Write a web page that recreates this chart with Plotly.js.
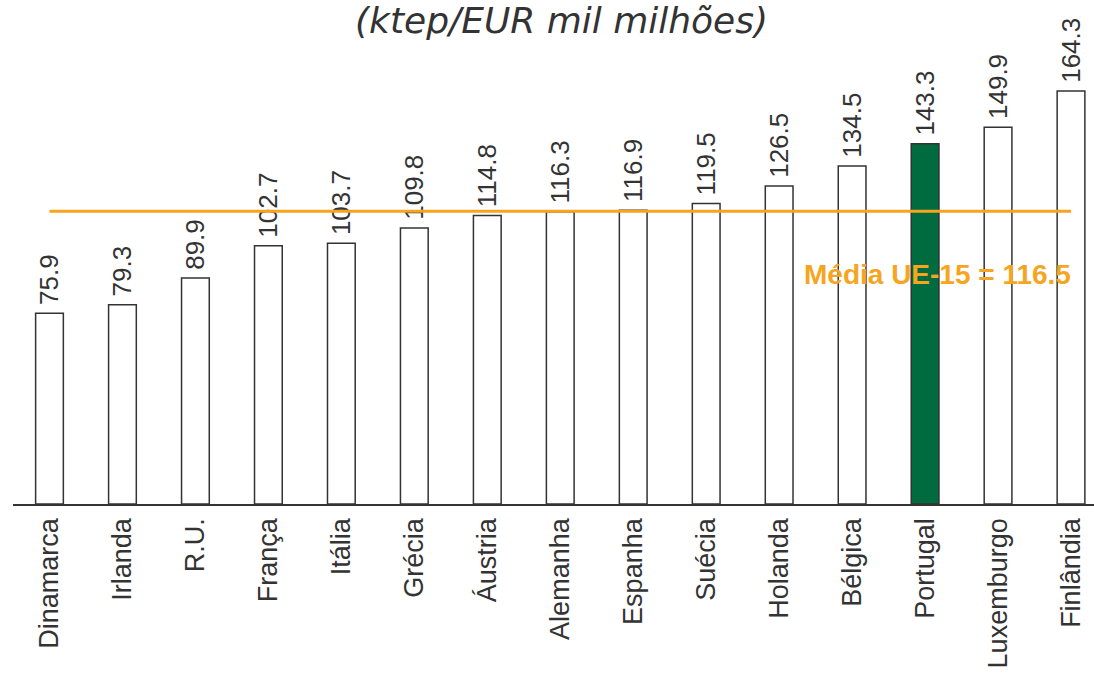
<!DOCTYPE html>
<html><head><meta charset="utf-8">
<script src="https://cdn.plot.ly/plotly-3.0.1.min.js"></script>
<style>html,body{margin:0;padding:0;background:#fff}#chart{width:1094px;height:676px}</style>
</head><body><div id="chart"></div>
<script>
const countries = ["Dinamarca","Irlanda","R.U.","França","Itália","Grécia","Áustria","Alemanha","Espanha","Suécia","Holanda","Bélgica","Portugal","Luxemburgo","Finlândia"];
const values = [75.9,79.3,89.9,102.7,103.7,109.8,114.8,116.3,116.9,119.5,126.5,134.5,143.3,149.9,164.3];
const euAverage = 116.5;
const highlight = "Portugal";
const titleText = "(ktep/EUR mil milhões)";
const avgLabel = "Média UE-15 = 116.5";

const FONT = '"Liberation Sans", Arial, sans-serif';
const fills = countries.map(c => c === highlight ? "#006B3F" : "#FFFFFF");

const bars = {
  type: "bar", x: countries, y: values, width: 0.38,
  marker: {color: fills, line: {color: "#333333", width: 1.5}},
  text: values.map(v => "\u2009" + v.toFixed(1)), textposition: "outside", textangle: -90,
  constraintext: "none", cliponaxis: false,
  textfont: {family: FONT, size: 26, color: "#333333"},
  hoverinfo: "x+y"
};
const avgLine = {
  type: "scatter", mode: "lines", x: [countries[0], countries[countries.length-1]], y: [euAverage, euAverage],
  line: {color: "#F5A51F", width: 3}, hoverinfo: "skip", cliponaxis: false
};

const layout = {
  width: 1094, height: 676,
  margin: {l: 12.5, r: 0, t: 0, b: 172},
  paper_bgcolor: "#fff", plot_bgcolor: "#fff",
  showlegend: false,
  xaxis: {range: [-0.5, 14.315], showgrid: false, zeroline: false, showline: true, linecolor: "#333333", linewidth: 1.5,
          ticks: "", ticklabelstandoff: 2, tickangle: -90, tickfont: {family: FONT, size: 27, color: "#333333"}, fixedrange: true},
  yaxis: {range: [0, 200.5], visible: false, fixedrange: true},
  annotations: [
    {text: avgLabel, xref: "x", yref: "y", x: countries[countries.length-1], y: euAverage, xanchor: "right", yanchor: "middle",
     xshift: 2, yshift: -63, showarrow: false, font: {family: FONT, size: 28, color: "#F5A51F", weight: "bold"}},
    {text: titleText, xref: "paper", yref: "paper", x: 0.507, y: 1, xanchor: "center", yanchor: "bottom", yshift: -43,
     showarrow: false, font: {family: "DejaVu Sans, Verdana, sans-serif", size: 36, color: "#333333", style: "italic"}}
  ]
};
Plotly.newPlot("chart", [bars, avgLine], layout, {displayModeBar: false, staticPlot: true});
</script></body></html>
